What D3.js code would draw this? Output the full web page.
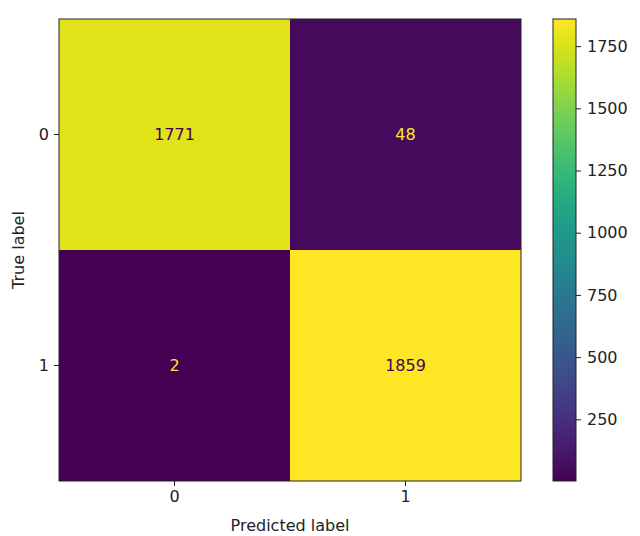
<!DOCTYPE html>
<html>
<head>
<meta charset="utf-8">
<script src="https://cdn.jsdelivr.net/npm/d3@7"></script>
<style>
  body { margin: 0; background: #fff; }
  text { font-family: "DejaVu Sans", sans-serif; }
</style>
</head>
<body>
<div id="chart"></div>
<script>
/* global d3 */

// Confusion matrix data
var classes = [ "0", "1" ];
var trueLabels = [ "0", "0", "1", "1" ];
var predLabels = [ "0", "1", "0", "1" ];
var counts = [ 1771, 48, 2, 1859 ];
var colorTicks = [ 250, 500, 750, 1000, 1250, 1500, 1750 ];

var width = 640,
  height = 536,
  margin = { top: 19, left: 59 },
  size = 462,
  fs = "16px";

var cells = counts.map( function( v, i ) {
  return { t: trueLabels[ i ], p: predLabels[ i ], v: v };
} );

var vmin = d3.min( counts ), vmax = d3.max( counts );

var color = d3.scaleSequential( d3.interpolateViridis ).domain( [ vmin, vmax ] );

var x = d3.scaleBand().domain( classes ).range( [ 0, size ] );
var y = d3.scaleBand().domain( classes ).range( [ 0, size ] );

var svg = d3.select( "#chart" ).append( "svg" )
  .attr( "width", width )
  .attr( "height", height );

var g = svg.append( "g" )
  .attr( "transform", "translate(" + margin.left + "," + margin.top + ")" );

// Cells
g.selectAll( ".cell" )
  .data( cells )
  .enter()
  .append( "rect" )
    .attr( "class", "cell" )
    .attr( "x", d => x( d.p ) )
    .attr( "y", d => y( d.t ) )
    .attr( "width", x.bandwidth() )
    .attr( "height", y.bandwidth() )
    .style( "fill", d => color( d.v ) );

// Cell labels: dark text on bright cells, bright text on dark ones
var thresh = ( vmin + vmax ) / 2;
g.selectAll( ".val" )
  .data( cells )
  .enter()
  .append( "text" )
    .attr( "class", "val" )
    .attr( "x", d => x( d.p ) + x.bandwidth() / 2 )
    .attr( "y", d => y( d.t ) + y.bandwidth() / 2 )
    .attr( "dy", "0.35em" )
    .attr( "text-anchor", "middle" )
    .style( "font-size", fs )
    .style( "fill", d => d.v < thresh ? color( vmax ) : color( vmin ) )
    .text( d => d.v );

// Axes frame
g.append( "rect" )
  .attr( "width", size )
  .attr( "height", size )
  .style( "fill", "none" )
  .style( "stroke", "#222" )
  .style( "stroke-width", 1 );

var xAxis = g.append( "g" )
  .attr( "transform", "translate(0," + size + ")" )
  .call( d3.axisBottom( x ).tickSize( 5 ).tickPadding( 5 ) );
var yAxis = g.append( "g" )
  .call( d3.axisLeft( y ).tickSize( 5 ).tickPadding( 5 ) );

[ xAxis, yAxis ].forEach( function( a ) {
  a.select( ".domain" ).remove();
  a.selectAll( "text" ).style( "font-size", fs ).style( "fill", "#222" )
    .style( "font-family", "'DejaVu Sans', sans-serif" );
  a.selectAll( "line" ).style( "stroke", "#222" );
} );

svg.append( "text" )
  .attr( "x", margin.left + size / 2 )
  .attr( "y", 531 )
  .attr( "text-anchor", "middle" )
  .style( "font-size", fs )
  .style( "fill", "#222" )
  .text( "Predicted label" );

svg.append( "text" )
  .attr( "transform", "translate(24," + ( margin.top + size / 2 ) + ") rotate(-90)" )
  .attr( "text-anchor", "middle" )
  .style( "font-size", fs )
  .style( "fill", "#222" )
  .text( "True label" );

// Colorbar
var cbX = 553, cbW = 23;
var defs = svg.append( "defs" );
var grad = defs.append( "linearGradient" )
  .attr( "id", "cbar" )
  .attr( "x1", "0%" ).attr( "y1", "100%" )
  .attr( "x2", "0%" ).attr( "y2", "0%" );
grad.selectAll( "stop" )
  .data( d3.range( 0, 1.0001, 0.05 ) )
  .enter()
  .append( "stop" )
    .attr( "offset", d => ( d * 100 ) + "%" )
    .attr( "stop-color", d => d3.interpolateViridis( d ) );

var cy = d3.scaleLinear().domain( [ vmin, vmax ] ).range( [ size, 0 ] );

var cb = svg.append( "g" )
  .attr( "transform", "translate(" + cbX + "," + margin.top + ")" );
cb.append( "rect" )
  .attr( "width", cbW )
  .attr( "height", size )
  .style( "fill", "url(#cbar)" )
  .style( "stroke", "#222" )
  .style( "stroke-width", 1 );

var cAxis = cb.append( "g" )
  .attr( "transform", "translate(" + cbW + ",0)" )
  .call( d3.axisRight( cy ).tickValues( colorTicks ).tickFormat( d3.format( "d" ) )
    .tickSize( 5 ).tickPadding( 6 ) );
cAxis.select( ".domain" ).remove();
cAxis.selectAll( "text" ).style( "font-size", fs ).style( "fill", "#222" )
  .style( "font-family", "'DejaVu Sans', sans-serif" );
cAxis.selectAll( "line" ).style( "stroke", "#222" );
</script>
</body>
</html>
